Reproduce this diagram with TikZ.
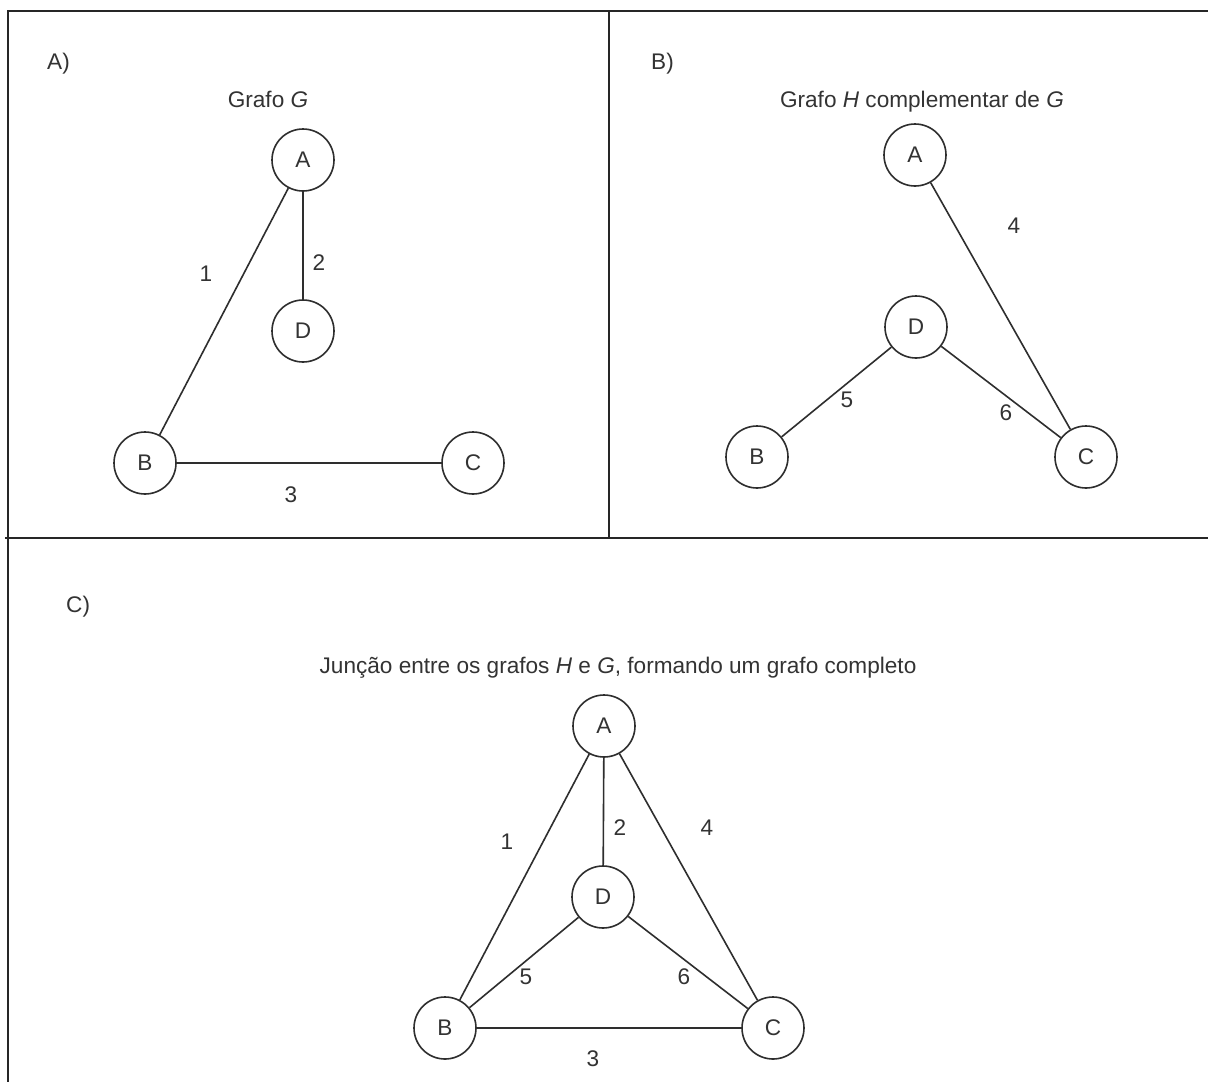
\documentclass[tikz,border=0pt]{standalone}
\usepackage{fontspec}
\setmainfont{Liberation Sans}
\begin{document}
\begin{tikzpicture}[x=1pt,y=-1pt,
  every node/.style={font=\fontsize{22.6}{27}\selectfont, text=black!80},
  frame/.style={line width=1.8pt, draw=black!85},
  vertex/.style={circle, draw=black!82, line width=1.6pt, minimum size=62pt, inner sep=0pt},
  link/.style={line width=1.6pt, draw=black!82},
  lbl/.style={inner sep=0pt},
  tag/.style={anchor=base west, inner sep=0pt},
  caption/.style={anchor=base, inner sep=0pt}]
\useasboundingbox (0,0) rectangle (1208,1082);
\fill[white] (0,0) rectangle (1208,1082);

% panel frames
\coordinate (tl) at (8,11);
\coordinate (tr) at (1208,11);
\coordinate (bl) at (8,1082);
\coordinate (vt) at (609,11);
\coordinate (vb) at (609,538);
\coordinate (hl) at (5,538);
\coordinate (hr) at (1208,538);
\draw[frame] (tr) -- (tl) -- (bl);
\draw[frame] (vt) -- (vb);
\draw[frame] (hl) -- (hr);

% ---- A) graph G
\node[tag] (tagA) at (47,69) {A)};
\node[caption] (capA) at (268,107) {Grafo \textit{G}};
\node[vertex] (gA) at (303,160) {A};
\node[vertex] (gD) at (303,331) {D};
\node[vertex] (gB) at (145,463) {B};
\node[vertex] (gC) at (473,463) {C};
\draw[link] (gA) -- (gB);
\draw[link] (gA) -- (gD);
\draw[link] (gB) -- (gC);
\node[lbl] (g1) at (206,274) {1};
\node[lbl] (g2) at (319,263) {2};
\node[lbl] (g3) at (291,495) {3};

% ---- B) graph H, complement of G
\node[tag] (tagB) at (651,69) {B)};
\node[caption] (capB) at (922,107) {Grafo \textit{H} complementar de \textit{G}};
\node[vertex] (hA) at (915,155) {A};
\node[vertex] (hD) at (916,327) {D};
\node[vertex] (hB) at (757,457) {B};
\node[vertex] (hC) at (1086,457) {C};
\draw[link] (hA) -- (hC);
\draw[link] (hD) -- (hB);
\draw[link] (hD) -- (hC);
\node[lbl] (h4) at (1014,226) {4};
\node[lbl] (h5) at (847,400) {5};
\node[lbl] (h6) at (1006,413) {6};

% ---- C) union of H and G: complete graph
\node[tag] (tagC) at (66,612) {C)};
\node[caption] (capC) at (618,673) {Junção entre os grafos \textit{H} e \textit{G}, formando um grafo completo};
\node[vertex] (kA) at (604,726) {A};
\node[vertex] (kD) at (603,897) {D};
\node[vertex] (kB) at (445,1028) {B};
\node[vertex] (kC) at (773,1028) {C};
\draw[link] (kA) -- (kB);
\draw[link] (kA) -- (kD);
\draw[link] (kA) -- (kC);
\draw[link] (kD) -- (kB);
\draw[link] (kD) -- (kC);
\draw[link] (kB) -- (kC);
\node[lbl] (k1) at (507,842) {1};
\node[lbl] (k2) at (620,828) {2};
\node[lbl] (k4) at (707,828) {4};
\node[lbl] (k5) at (526,977) {5};
\node[lbl] (k6) at (684,977) {6};
\node[lbl] (k3) at (593,1059) {3};
\end{tikzpicture}
\end{document}
